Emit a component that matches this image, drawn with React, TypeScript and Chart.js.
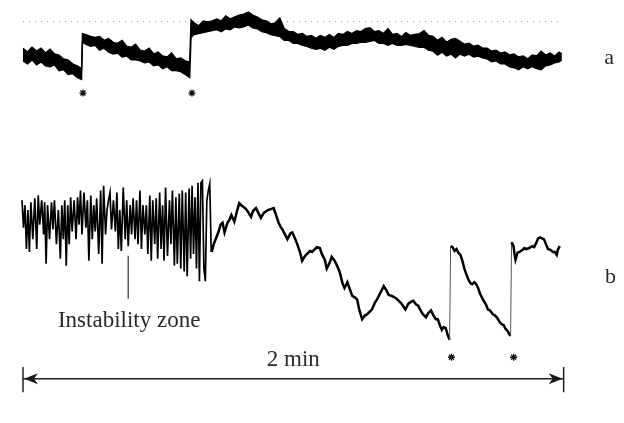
import React, { useEffect, useRef } from "react";
import { Chart, registerables } from "chart.js";

Chart.register(...registerables);

// ---- Trace a (upper record): time in s, envelope of the noisy band (vertical offset units, 0 = top) ----
const aTime = [0,1,2,3,4,5,6,7,8,9,10,11,12,13,13.2,
  14,15,16,17,18,19,20,21,22,23,24,25,26,27,28,29,30,31,32,33,34,35,36,37,37.3,
  38,39,40,41,42,43,44,45,46,47,48,49,50,51,52,53,54,55,56,57,58,59,60,61,62,63,64,65,66,67,68,69,70,71,72,73,74,75,76,77,78,79,80,81,82,83,84,85,86,87,88,89,90,91,92,93,94,95,96,97,98,99,100,101,102,103,104,105,106,107,108,109,110,111,112,113,114,115,116,117,118,119,119.6];
const aTop = [44,48,43,47,44,49,45,50,51,55,56,60,62,65,29,
  30,32,33,32,36,34,38,39,36,42,43,40,46,47,44,50,48,52,53,49,55,54,57,58,15,
  18,21,16,17,16,14,16,11,14,12,10,9,7,10,12,15,16,19,18,13,24,27,27,30,29,32,31,34,31,33,30,33,29,30,27,29,26,27,24,23,27,26,29,24,30,29,32,28,31,30,29,26,31,32,36,33,38,35,34,37,40,39,42,41,44,44,47,46,49,48,51,50,53,52,55,51,52,47,51,49,52,48,50];
const aBottom = [57,60,56,61,58,62,63,61,67,66,71,70,74,76,38,
  40,42,41,46,44,48,50,49,53,52,56,56,57,59,58,62,61,65,63,67,67,68,71,74,33,
  30,29,28,27,26,25,27,24,25,22,23,22,20,23,24,27,28,30,31,32,36,36,39,39,41,42,44,45,44,46,43,45,42,41,41,39,39,38,38,37,36,39,39,41,39,41,41,40,41,42,43,43,46,47,51,48,52,50,54,50,52,50,53,52,54,55,58,57,60,60,63,64,66,63,65,63,65,66,62,61,59,58,56];

// dotted reference level above trace a
const refTime = [0, 118.7];
const refLevel = [16.7, 16.7];

// ---- Trace b, instability zone ----
const zoneTime = [-0.22,0.11,0.44,0.76,1.09,1.42,1.75,2.18,2.62,3.05,
  3.38,3.71,4.15,4.58,4.80,5.13,5.45,5.89,6.33,6.65,
  6.98,7.42,7.85,8.29,8.62,8.95,9.27,9.60,9.93,10.25,
  10.58,10.91,11.35,11.78,12.11,12.44,12.76,13.09,13.53,13.96,
  14.29,14.62,15.05,15.38,15.71,16.04,16.36,16.80,17.24,17.56,
  17.89,18.33,18.65,18.98,19.31,19.64,20.07,20.51,20.84,21.16,
  21.49,21.82,22.25,22.69,23.02,23.35,23.78,24.11,24.44,24.87,
  25.20,25.53,25.96,26.29,26.62,27.05,27.38,27.71,28.15,28.47,
  28.80,29.24,29.56,29.89,30.33,30.65,30.98,31.31,31.64,32.07,
  32.51,32.84,33.16,33.60,33.93,34.25,34.69,35.02,35.35,35.78,
  36.11,36.44,36.87,37.20,37.53,37.85,38.18,38.51,38.84,39.16,
  39.49,39.82,40.15,40.47,40.80,41.13,41.45,41.78];
const zoneLevel = [200,228,205,250,210,253,202,240,198,250,
  195,225,200,235,202,265,205,240,202,230,
  200,245,210,260,205,240,200,267,205,245,
  197,232,200,240,197,225,190,235,192,228,
  200,262,195,240,205,232,198,255,190,265,
  185,235,210,200,192,230,200,232,192,250,
  210,252,187,240,200,247,205,235,198,240,
  200,245,190,250,205,235,205,255,195,262,
  200,245,198,260,192,250,205,262,187,257,
  200,245,190,267,197,265,193,270,190,273,
  192,278,188,260,185,255,197,270,182,283,
  182,180,270,283,200,190,183,253];

// ---- Trace b, after the instability zone ----
const bTime = [41.89,42.33,42.76,43.42,43.85,44.29,44.73,45.38,45.82,46.25,
  46.91,47.56,48.00,48.65,49.31,49.96,50.62,51.05,51.71,52.36,
  52.80,53.45,54.33,54.98,55.64,56.07,56.73,57.16,57.60,58.25,
  58.69,59.35,59.78,60.44,60.87,61.53,61.96,62.62,63.05,63.71,
  64.15,64.80,65.24,65.89,66.33,66.98,67.42,68.07,68.51,69.16,
  69.60,70.25,70.91,71.35,72.00,72.44,73.09,73.75,74.18,74.62,
  75.27,75.93,76.36,77.02,77.45,78.11,78.55,79.20,79.64,80.07,
  80.73,81.16,81.82,82.25,82.91,83.35,84.00,84.44,84.87,85.53,
  86.18,86.62,87.27,87.71,88.36,88.80,89.45,89.89,90.55,91.20,
  91.64,92.07,92.51,92.95,93.38,93.82,94.25,94.69,94.91,95.35,
  95.78,96.22,96.65,97.09,97.53,97.96,98.40,98.84,99.27,99.71,
  100.15,100.58,101.02,101.45,102.11,102.76,103.20,103.64,104.29,104.73,
  105.16,105.82,106.25,106.69,107.13,107.56,108.00,108.22,108.44,108.87,
  109.09,109.31,109.75,110.18,110.84,111.27,111.71,112.36,113.02,113.45,
  113.89,114.33,114.76,115.20,115.64,116.07,116.51,117.16,117.60,118.04,
  118.47,118.69,119.13];
const bLevel = [253,245,240,232,225,223,233,223,220,215,
  222,210,203,206,208,212,217,211,208,214,
  218,213,210,209,208,214,223,227,230,236,
  240,234,233,240,245,254,262,257,255,252,
  253,250,248,249,255,261,270,264,258,262,
  266,273,285,290,284,290,298,300,302,312,
  322,318,317,314,312,305,302,296,292,288,
  293,297,298,299,301,303,306,309,312,306,
  304,303,307,308,314,317,320,316,313,319,
  322,322,328,333,330,331,338,343,247,248,
  252,250,254,256,262,270,276,281,285,286,
  284,286,290,296,302,307,312,313,317,318,
  320,325,327,328,332,334,338,339,243,247,
  255,261,254,253,251,249,250,249,247,248,
  244,239,238,239,240,245,250,251,253,253,
  256,251,247];

// stimulus marks (asterisks)
const stimTimeA = [13.3, 37.5];
const stimLevelA = [90, 90];
const stimTimeB = [95.1, 108.9];
const stimLevelB = [361, 361];

// pointer to the instability zone
const pointerTime = [23.35, 23.35];
const pointerLevel = [257, 301];

// 2-min scale bar
const scaleTime = [0, 120];
const scaleLevel = [383, 383];
const scaleTickLevel = [371, 397];

const notes = [
  { text: "a", t: 130.1, v: 60, size: 22 },
  { text: "b", t: 130.4, v: 285, size: 22 },
  { text: "Instability zone", t: 23.56, v: 330, size: 23 },
  { text: "2 min", t: 60, v: 370, size: 23 },
];

const pts = (xs: number[], ys: number[]) => xs.map((x, i) => ({ x, y: ys[i] }));

const notesPlugin = {
  id: "figureNotes",
  afterDatasetsDraw(chart: any) {
    const { ctx } = chart;
    const xs = chart.scales.x;
    const ys = chart.scales.y;
    ctx.save();
    ctx.fillStyle = "#2a2a2a";
    ctx.textAlign = "center";
    ctx.textBaseline = "alphabetic";
    for (const n of notes) {
      ctx.font = `${n.size}px "Liberation Serif", "Times New Roman", serif`;
      ctx.fillText(n.text, xs.getPixelForValue(n.t), ys.getPixelForValue(n.v));
    }
    const yb = ys.getPixelForValue(scaleLevel[0]);
    const head = (xt: number, dir: number) => {
      ctx.beginPath();
      ctx.moveTo(xt, yb);
      ctx.lineTo(xt + dir * 14, yb - 5.5);
      ctx.lineTo(xt + dir * 10, yb);
      ctx.lineTo(xt + dir * 14, yb + 5.5);
      ctx.closePath();
      ctx.fillStyle = "#1a1a1a";
      ctx.fill();
    };
    head(xs.getPixelForValue(scaleTime[0]) + 1, 1);
    head(xs.getPixelForValue(scaleTime[1]) - 1, -1);
    ctx.restore();
  },
};

export default function App() {
  const ref = useRef<HTMLCanvasElement | null>(null);
  useEffect(() => {
    if (!ref.current) return;
    const base = { pointRadius: 0, pointHoverRadius: 0, tension: 0 };
    const chart = new Chart(ref.current, {
      type: "line",
      data: {
        datasets: [
          { ...base, data: pts(aTime, aBottom), borderColor: "#000", borderWidth: 1.4, fill: false },
          { ...base, data: pts(aTime, aTop), borderColor: "#000", borderWidth: 1.4, backgroundColor: "#000", fill: "-1" },
          { ...base, data: pts(refTime, refLevel), borderColor: "#888", borderWidth: 1, borderDash: [1, 5], fill: false },
          { ...base, data: pts(zoneTime, zoneLevel), borderColor: "#000", borderWidth: 1.7, fill: false },
          {
            ...base,
            data: pts(bTime, bLevel),
            borderColor: "#000",
            borderWidth: 2.5,
            fill: false,
            segment: {
              borderWidth: (c: any) => (Math.abs(c.p1.parsed.y - c.p0.parsed.y) > 50 ? 1 : undefined),
              borderColor: (c: any) => (Math.abs(c.p1.parsed.y - c.p0.parsed.y) > 50 ? "#555" : undefined),
            },
          },
          { ...base, data: pts(pointerTime, pointerLevel), borderColor: "#333", borderWidth: 1.2, fill: false },
          { ...base, data: pts(scaleTime, scaleLevel), borderColor: "#222", borderWidth: 1.5, fill: false },
          { ...base, data: pts([scaleTime[0], scaleTime[0]], scaleTickLevel), borderColor: "#222", borderWidth: 1.5, fill: false },
          { ...base, data: pts([scaleTime[1], scaleTime[1]], scaleTickLevel), borderColor: "#222", borderWidth: 1.5, fill: false },
          {
            data: pts(stimTimeA.concat(stimTimeB), stimLevelA.concat(stimLevelB)),
            showLine: false,
            pointStyle: "star",
            pointRadius: 3.5,
            pointBorderWidth: 1.3,
            borderColor: "#111",
            backgroundColor: "#111",
          },
        ],
      },
      options: {
        responsive: false,
        animation: false,
        events: [],
        layout: { padding: 0 },
        plugins: { legend: { display: false }, tooltip: { enabled: false } },
        scales: {
          x: { type: "linear", display: false, min: -3.9273, max: 132.218 },
          y: { type: "linear", display: false, min: 0, max: 423, reverse: true },
        },
      },
      plugins: [notesPlugin],
    } as any);
    return () => chart.destroy();
  }, []);
  return (
    <div style={{ position: "absolute", left: 0, top: 0, width: 624, height: 423, background: "#fff" }}>
      <canvas ref={ref} width={624} height={423} style={{ display: "block" }} />
    </div>
  );
}
